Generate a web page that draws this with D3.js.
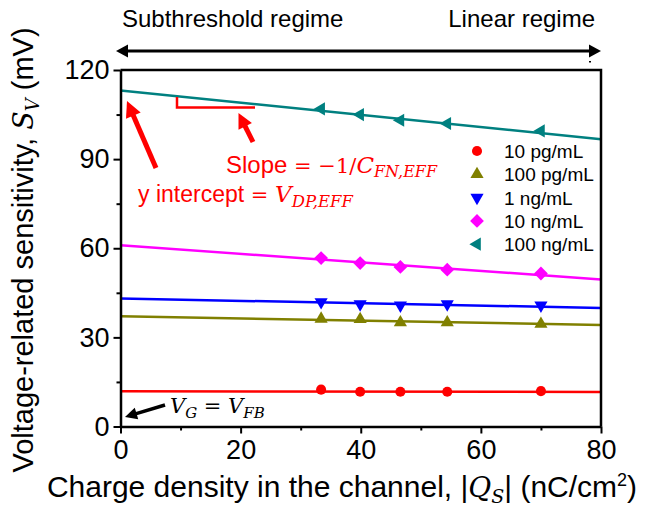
<!DOCTYPE html>
<html>
<head>
<meta charset="utf-8">
<script src="https://cdn.jsdelivr.net/npm/d3@7"></script>
<style>
  body { margin: 0; background: #fff; }
  svg { display: block; font-family: Arial, "Liberation Sans", sans-serif; }
</style>
</head>
<body>
<div id="chart"></div>
<script>
// data
var concLabels = ["10 pg/mL", "100 pg/mL", "1 ng/mL", "10 ng/mL", "100 ng/mL"];
var concColors = ["#ff0000", "#808000", "#0000ff", "#ff00ff", "#008080"];
var qs = [33.4, 39.9, 46.6, 54.4, 70.0];
var sv10pg = [12.4, 11.7, 11.7, 11.7, 11.9];
var sv100pg = [36.2, 36.1, 35.0, 35.0, 34.5];
var sv1ng = [41.9, 41.2, 40.8, 41.2, 40.8];
var sv10ng = [56.7, 55.0, 53.7, 52.8, 51.5];
var sv100ng = [106.9, 105.0, 103.1, 102.0, 99.5];
// linear fits, value at Qs = 0 and Qs = 80
var fitQs = [0, 80];
var fit10pg = [11.9, 11.6];
var fit100pg = [37.1, 34.2];
var fit1ng = [43.1, 39.9];
var fit10ng = [61.0, 49.5];
var fit100ng = [113.1, 96.7];
var xTicks = [0, 20, 40, 60, 80];
var yTicks = [0, 30, 60, 90, 120];

var series = [sv10pg, sv100pg, sv1ng, sv10ng, sv100ng];
var fits = [fit10pg, fit100pg, fit1ng, fit10ng, fit100ng];

var width = 647, height = 510;
var svg = d3.select("#chart").append("svg")
    .attr("width", width)
    .attr("height", height);

var x = d3.scaleLinear().domain([0, 80]).range([120.5, 601]);
var y = d3.scaleLinear().domain([0, 120]).range([426.5, 70]);

// marker shapes: circle, up, down, diamond, left
var symbols = [
    {type: d3.symbolCircle, size: 80, rot: 0},
    {type: d3.symbolTriangle, size: 75, rot: 0},
    {type: d3.symbolTriangle, size: 75, rot: 180},
    {type: d3.symbolSquare, size: 95, rot: 45},
    {type: d3.symbolTriangle, size: 75, rot: -90}
];
function marker(g, i, cx, cy) {
    g.append("path")
        .attr("d", d3.symbol().type(symbols[i].type).size(symbols[i].size)())
        .attr("transform", "translate(" + cx + "," + cy + ") rotate(" + symbols[i].rot + ")")
        .attr("fill", concColors[i]);
}

// fit lines
var line = d3.line().x(function (d) { return x(d[0]); }).y(function (d) { return y(d[1]); });
fits.forEach(function (f, i) {
    svg.append("path")
        .attr("d", line(d3.zip(fitQs, f)))
        .attr("stroke", concColors[i])
        .attr("stroke-width", 2.5)
        .attr("fill", "none");
});

// data markers
series.forEach(function (s, i) {
    var g = svg.append("g");
    s.forEach(function (v, j) { marker(g, i, x(qs[j]), y(v)); });
});

// axes
svg.append("g").attr("transform", "translate(0,426.5)")
    .call(d3.axisBottom(x).tickValues(xTicks).tickSize(7).tickSizeOuter(0).tickPadding(6));
svg.append("g").attr("transform", "translate(0,426.5)")
    .call(d3.axisBottom(x).tickValues([10, 30, 50, 70]).tickSize(4).tickFormat(""))
    .select(".domain").remove();
svg.append("g").attr("transform", "translate(120.5,0)")
    .call(d3.axisLeft(y).tickValues(yTicks).tickSize(7).tickSizeOuter(0).tickPadding(4));
svg.append("g").attr("transform", "translate(120.5,0)")
    .call(d3.axisLeft(y).tickValues([15, 45, 75, 105]).tickSize(4).tickFormat(""))
    .select(".domain").remove();
svg.selectAll(".tick line").attr("stroke-width", 2);
svg.selectAll(".domain").attr("stroke-width", 2.5);
svg.selectAll(".tick text").attr("font-size", 27).attr("font-family", "Arial, 'Liberation Sans', sans-serif").attr("fill", "#000");
// top and right frame
svg.append("path")
    .attr("d", "M120.5,70 H601 V426.5")
    .attr("stroke", "#000").attr("stroke-width", 2.5).attr("fill", "none");

// axis titles
var mathFont = "'DejaVu Serif', 'Liberation Serif', serif";
var xl = svg.append("text").attr("x", 342).attr("y", 497)
    .attr("text-anchor", "middle").attr("font-size", 30);
xl.append("tspan").text("Charge density in the channel, |");
xl.append("tspan").attr("font-family", mathFont).attr("font-style", "italic").attr("font-size", 28).text("Q");
xl.append("tspan").attr("font-family", mathFont).attr("font-style", "italic").attr("font-size", 19).attr("dy", 6).text("S");
xl.append("tspan").attr("dy", -6).text("| (nC/cm");
xl.append("tspan").attr("font-size", 18).attr("dy", -11).text("2");
xl.append("tspan").attr("dy", 11).text(")");

var yl = svg.append("text").attr("transform", "translate(33,250) rotate(-90)")
    .attr("text-anchor", "middle").attr("font-size", 29);
yl.append("tspan").text("Voltage-related sensitivity, ");
yl.append("tspan").attr("font-family", mathFont).attr("font-style", "italic").attr("font-size", 27).text("S");
yl.append("tspan").attr("font-family", mathFont).attr("font-style", "italic").attr("font-size", 18).attr("dy", 6).text("V");
yl.append("tspan").attr("dy", -6).text(" (mV)");

// legend
concLabels.forEach(function (lab, i) {
    var ly = 151 + i * 23.3;
    marker(svg, i, 477, ly);
    svg.append("text").attr("x", 504).attr("y", ly + 7).attr("font-size", 19).text(lab);
});

// arrows
function arrow(x1, y1, x2, y2, w, hl, hw, color, both) {
    var a = Math.atan2(y2 - y1, x2 - x1);
    function head(tx, ty, ang) {
        var bx = tx - hl * Math.cos(ang), by = ty - hl * Math.sin(ang);
        var px = -Math.sin(ang) * hw / 2, py = Math.cos(ang) * hw / 2;
        svg.append("path")
            .attr("d", "M" + tx + "," + ty + "L" + (bx + px) + "," + (by + py) + "L" + (bx - px) + "," + (by - py) + "Z")
            .attr("fill", color);
    }
    var sx = both ? x1 + (hl - 2) * Math.cos(a) : x1, sy = both ? y1 + (hl - 2) * Math.sin(a) : y1;
    svg.append("line")
        .attr("x1", sx).attr("y1", sy)
        .attr("x2", x2 - (hl - 2) * Math.cos(a)).attr("y2", y2 - (hl - 2) * Math.sin(a))
        .attr("stroke", color).attr("stroke-width", w);
    head(x2, y2, a);
    if (both) head(x1, y1, a + Math.PI);
}

// regime annotation
arrow(116, 51, 601, 51, 3, 12, 13, "#000", true);
svg.append("text").attr("x", 122).attr("y", 27).attr("font-size", 24).text("Subthreshold regime");
svg.append("text").attr("x", 595).attr("y", 27).attr("font-size", 24).attr("text-anchor", "end").text("Linear regime");
svg.append("rect").attr("x", 589).attr("y", 61).attr("width", 2).attr("height", 1.5).attr("fill", "#000");

// slope bracket + red arrows
svg.append("path").attr("d", "M177,97 V107.5 H255")
    .attr("stroke", "#ff0000").attr("stroke-width", 2.5).attr("fill", "none");
arrow(156, 168, 127, 101, 5, 16, 16, "#ff0000", false);
arrow(253, 142, 238.5, 113, 5, 15, 15, "#ff0000", false);

var st = svg.append("text").attr("x", 226).attr("y", 173).attr("font-size", 24).attr("fill", "#ff0000");
st.append("tspan").text("Slope");
st.append("tspan").attr("font-family", mathFont).attr("font-size", 21).text(" = \u22121/");
st.append("tspan").attr("font-family", mathFont).attr("font-style", "italic").attr("font-size", 23).text("C");
st.append("tspan").attr("font-family", mathFont).attr("font-style", "italic").attr("font-size", 16).attr("dy", 4).text("FN,EFF");

var yi = svg.append("text").attr("x", 138).attr("y", 202).attr("font-size", 23).attr("fill", "#ff0000");
yi.append("tspan").text("y intercept");
yi.append("tspan").attr("font-family", mathFont).attr("font-size", 21).text(" = ");
yi.append("tspan").attr("font-family", mathFont).attr("font-style", "italic").text("V");
yi.append("tspan").attr("font-family", mathFont).attr("font-style", "italic").attr("font-size", 16.5).attr("dy", 5).text("DP,EFF");

// flat band annotation
arrow(165, 405, 125, 417, 3.5, 12, 12, "#000", false);
var vg = svg.append("text").attr("x", 170).attr("y", 413).attr("font-size", 21).attr("font-family", mathFont);
vg.append("tspan").attr("font-style", "italic").text("V");
vg.append("tspan").attr("font-style", "italic").attr("font-size", 15).attr("dy", 5).text("G");
vg.append("tspan").attr("dy", -5).text(" = ");
vg.append("tspan").attr("font-style", "italic").text("V");
vg.append("tspan").attr("font-style", "italic").attr("font-size", 15).attr("dy", 5).text("FB");
</script>
</body>
</html>
